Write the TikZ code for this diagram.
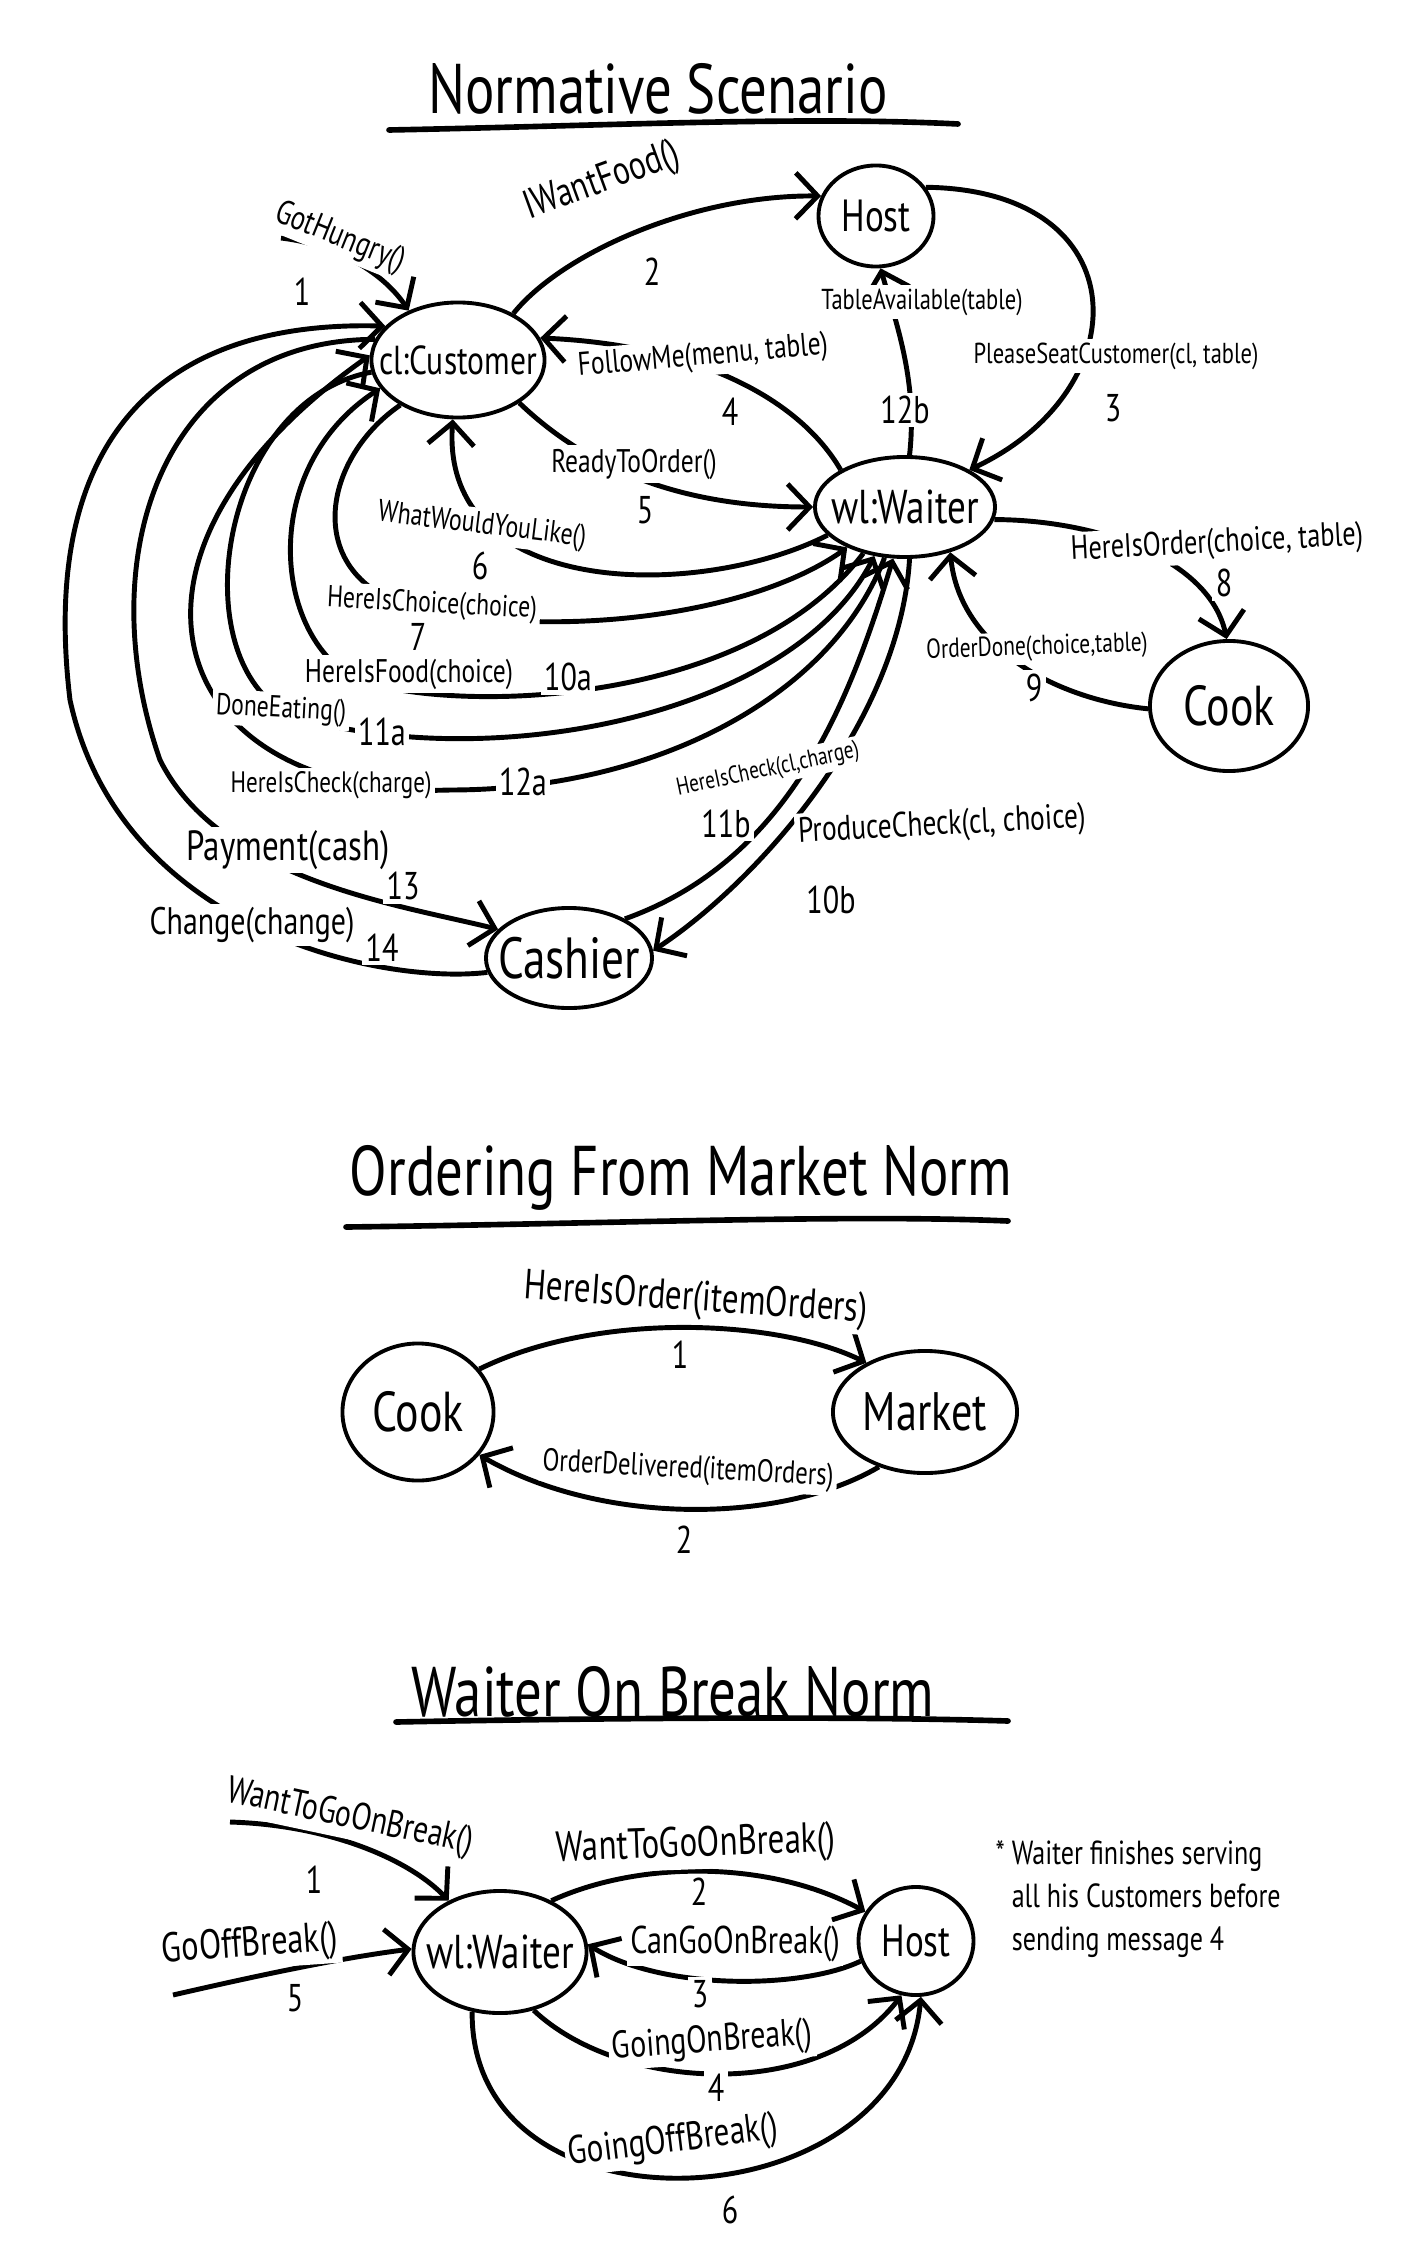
\documentclass[tikz,border=0pt]{standalone}
\usepackage{fontspec}
\setmainfont{PT Sans}[FakeStretch=0.78]
\usetikzlibrary{arrows.meta,shapes.geometric}

\begin{document}
\begin{tikzpicture}[x=0.01cm, y=0.01cm,
  actor/.style={ellipse, draw, line width=1.1pt, inner xsep=-2mm, inner ysep=0pt},
  msg/.style={line width=1.4pt, -{Straight Barb[length=2.2mm, width=4.6mm]}},
  lbl/.style={fill=white, inner sep=1pt, font=\fontsize{#1}{#1}\selectfont},
  num/.style={fill=white, inner sep=1pt, font=\fontsize{11}{11}\selectfont},
  title/.style={font=\fontsize{20}{20}\selectfont},
  hline/.style={line width=1.6pt, line cap=round}]
\useasboundingbox (0,0) rectangle (1400,-2258);

% ---------- normative scenario ----------
\node[title] (t1) at (658,-89) {Normative Scenario};
\draw[hline] (389,-130) .. controls (600,-126) and (800,-116) .. (958,-124);

% agents
\node[actor, minimum width=1.15cm, minimum height=1.01cm, font=\fontsize{12.8}{13}\selectfont] (host) at (876,-216) {Host};
\node[actor, minimum width=1.73cm, minimum height=1.15cm, font=\fontsize{11.5}{12}\selectfont] (cust) at (458,-360) {cl:Customer};
\node[actor, minimum width=1.8cm, minimum height=1.0cm, font=\fontsize{13.5}{14}\selectfont] (wait) at (905,-507) {wl:Waiter};
\node[actor, minimum width=1.58cm, minimum height=1.3cm, font=\fontsize{16}{16}\selectfont] (cook) at (1229,-706) {Cook};
\node[actor, minimum width=1.66cm, minimum height=1.0cm, font=\fontsize{16.5}{17}\selectfont] (cash) at (569,-958) {Cashier};

% seating
\coordinate (hungry) at (281,-238);
\draw[msg] (hungry) .. controls (340,-245) and (385,-275) .. (cust.135);
\draw[msg] (cust.40) .. controls (560,-255) and (690,-195) .. (host.160);
\draw[msg] (host.30) .. controls (1140,-190) and (1140,-390) .. (wait.30);
\draw[msg] (wait.150) .. controls (800,-400) and (700,-345) .. (cust.15);
\draw[msg] (cust.-35) .. controls (600,-480) and (700,-507) .. (wait.180);
\draw[msg] (wait.200) .. controls (700,-600) and (440,-600) .. (cust.-95);

% ordering, eating, paying (left fan)
\draw[msg] (cust.218) .. controls (320,-460) and (300,-580) .. (420,-610) .. controls (580,-640) and (760,-610) .. (wait.215);
\draw[msg] (wait.228) .. controls (760,-690) and (520,-710) .. (400,-690) .. controls (280,-690) and (240,-480) .. (cust.200);
\draw[msg] (cust.188) .. controls (220,-400) and (180,-660) .. (290,-715) .. controls (480,-775) and (790,-720) .. (wait.238);
\draw[msg] (wait.248) .. controls (830,-700) and (650,-790) .. (450,-790) .. controls (170,-800) and (80,-560) .. (cust.177);
\draw[msg] (cust.166) .. controls (160,-340) and (90,-560) .. (160,-760) .. controls (220,-880) and (400,-905) .. (cash.158);
\draw[msg] (cash.190) .. controls (380,-985) and (120,-930) .. (70,-700) .. controls (40,-450) and (150,-320) .. (cust.155);

% cook and cashier
\draw[msg] (cash.35) .. controls (790,-860) and (850,-700) .. (wait.257);
\draw[msg] (wait.275) .. controls (900,-720) and (760,-880) .. (cash.5);
\draw[msg] (wait.85) .. controls (918,-380) and (895,-320) .. (host.-85);
\draw[msg] (wait.-8) .. controls (1100,-520) and (1210,-560) .. (cook.92);
\draw[msg] (cook.182) .. controls (1060,-700) and (960,-650) .. (wait.-45);

% message labels
\node[lbl=9.7, rotate=-22] (hungrylbl) at (340,-238) {GotHungry()};
\node[lbl=11.5, rotate=20] (foodlbl) at (602,-182) {IWantFood()};
\node[lbl=8.2] (seatlbl) at (1116,-356) {PleaseSeatCustomer(cl, table)};
\node[lbl=9.3, rotate=5] (followlbl) at (703,-357) {FollowMe(menu, table)};
\node[lbl=9.3] (readylbl) at (634,-464) {ReadyToOrder()};
\node[lbl=8.7, rotate=-7] (likelbl) at (482,-526) {WhatWouldYouLike()};
\node[lbl=8.6, rotate=-3] (choicelbl) at (432,-605) {HereIsChoice(choice)};
\node[lbl=9.6, rotate=3] (orderlbl) at (1217,-544) {HereIsOrder(choice, table)};
\node[lbl=7.8, rotate=2] (donelbl) at (1037,-648) {OrderDone(choice,table)};
\node[lbl=9.3] (servelbl) at (409,-674) {HereIsFood(choice)};
\node[lbl=8.6, rotate=-3] (eatlbl) at (281,-710) {DoneEating()};
\node[lbl=8.4] (billlbl) at (331,-785) {HereIsCheck(charge)};
\node[lbl=7, rotate=12] (cashbilllbl) at (768,-770) {HereIsCheck(cl,charge)};
\node[lbl=10, rotate=3] (producelbl) at (942,-826) {ProduceCheck(cl, choice)};
\node[lbl=8.2] (tablelbl) at (922,-302) {TableAvailable(table)};
\node[lbl=12] (paylbl) at (288,-850) {Payment(cash)};
\node[lbl=10.9] (changelbl) at (252,-925) {Change(change)};

% message numbers
\node[num] (hungrynum) at (302,-292) {1};
\node[num] (foodnum) at (652,-272) {2};
\node[num] (seatnum) at (1113,-408) {3};
\node[num] (follownum) at (730,-412) {4};
\node[num] (readynum) at (645,-510) {5};
\node[num] (likenum) at (480,-566) {6};
\node[num] (choicenum) at (418,-637) {7};
\node[num] (ordernum) at (1224,-583) {8};
\node[num] (donenum) at (1034,-688) {9};
\node[num] (servenum) at (568,-677) {10a};
\node[num] (eatnum) at (382,-732) {11a};
\node[num] (billnum) at (523,-782) {12a};
\node[num] (cashbillnum) at (726,-824) {11b};
\node[num] (producenum) at (831,-900) {10b};
\node[num] (tablenum) at (905,-410) {12b};
\node[num] (paynum) at (403,-886) {13};
\node[num] (changenum) at (382,-948) {14};

% ---------- ordering from market ----------
\node[title] (t2) at (681,-1178) {Ordering From Market Norm};
\draw[hline] (346,-1227) .. controls (600,-1224) and (850,-1214) .. (1008,-1221);

\node[actor, minimum width=1.51cm, minimum height=1.37cm, font=\fontsize{16}{16}\selectfont] (mcook) at (418,-1412) {Cook};
\node[actor, minimum width=1.84cm, minimum height=1.22cm, font=\fontsize{15.4}{16}\selectfont] (market) at (925,-1412) {Market};
\draw[msg] (mcook.35) .. controls (600,-1310) and (780,-1320) .. (market.140);
\draw[msg] (market.-130) .. controls (780,-1525) and (600,-1525) .. (mcook.-35);
\node[lbl=12, rotate=-4] (askmktlbl) at (696,-1300) {HereIsOrder(itemOrders)};
\node[lbl=9, rotate=-3] (deliverlbl) at (688,-1470) {OrderDelivered(itemOrders)};
\node[num] (askmktnum) at (680,-1355) {1};
\node[num] (delivernum) at (684,-1540) {2};

% ---------- waiter on break ----------
\node[title] (t3) at (673,-1692) {Waiter On Break Norm};
\draw[hline] (396,-1722) .. controls (600,-1718) and (850,-1716) .. (1008,-1721);

\node[actor, minimum width=1.73cm, minimum height=1.22cm, font=\fontsize{13.5}{14}\selectfont] (bwait) at (500,-1952) {wl:Waiter};
\node[actor, minimum width=1.15cm, minimum height=1.08cm, font=\fontsize{12.8}{13}\selectfont] (bhost) at (916,-1941) {Host};

\coordinate (breakin) at (230,-1822);
\coordinate (offin) at (173,-1995);
\draw[msg] (breakin) .. controls (330,-1825) and (410,-1860) .. (bwait.135);
\draw[msg] (offin) .. controls (260,-1975) and (340,-1958) .. (bwait.178);
\draw[msg] (bwait.45) .. controls (640,-1860) and (770,-1860) .. (bhost.150);
\draw[msg] (bhost.200) .. controls (800,-1990) and (660,-1990) .. (bwait.5);
\draw[msg] (bwait.-60) .. controls (620,-2092) and (820,-2102) .. (bhost.-105);
\draw[msg] (bwait.-115) .. controls (470,-2245) and (900,-2225) .. (bhost.-85);

\node[lbl=10.8, rotate=-12] (wantlbl) at (350,-1818) {WantToGoOnBreak()};
\node[lbl=11.8, rotate=4] (offlbl) at (250,-1946) {GoOffBreak()};
\node[lbl=12, rotate=2] (asklbl) at (696,-1846) {WantToGoOnBreak()};
\node[lbl=11] (canlbl) at (735,-1944) {CanGoOnBreak()};
\node[lbl=10.9, rotate=4] (gonlbl) at (712,-2042) {GoingOnBreak()};
\node[lbl=11.3, rotate=7] (gofflbl) at (673,-2142) {GoingOffBreak()};
\node[num] (wantnum) at (314,-1880) {1};
\node[num] (offnum) at (295,-1998) {5};
\node[num] (asknum) at (699,-1892) {2};
\node[num] (cannum) at (700,-1994) {3};
\node[num] (gonnum) at (716,-2088) {4};
\node[num] (goffnum) at (730,-2210) {6};

% side note
\node[font=\fontsize{9.5}{12.2}\selectfont, align=left, anchor=north west, inner sep=0pt] (note) at (995,-1840)
  {* Waiter finishes serving\\\hphantom{* }all his Customers before\\\hphantom{* }sending message 4};
\end{tikzpicture}
\end{document}
